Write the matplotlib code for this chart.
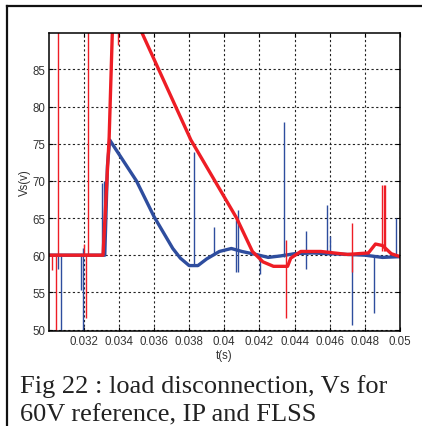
"""
Fig 22 - load disconnection, Vs for 60V reference, IP and FLSS
"""

import numpy as np
import matplotlib
matplotlib.use('Agg')
import matplotlib.pyplot as plt
from matplotlib.lines import Line2D

# IP (blue) - main trace
ip_t = [0.0300, 0.0332, 0.03335, 0.03348, 0.0350, 0.0360, 0.03707,
        0.0375, 0.0380, 0.0385, 0.0390, 0.03972, 0.0404, 0.0410, 0.0418,
        0.0425, 0.0432, 0.0440, 0.0450, 0.0480, 0.0490, 0.0500]
ip_v = [60.0, 60.0, 72.0, 75.5, 70.0, 65.2, 60.9,
        59.6, 58.6, 58.6, 59.5, 60.5, 60.9, 60.5, 60.1,
        59.7, 59.9, 60.2, 60.3, 60.0, 59.7, 59.8]

# IP spikes (time, low, high)
ip_spike_t = [0.03056, 0.03069, 0.03184, 0.03194, 0.03197, 0.03305, 0.03316,
              0.0383, 0.03943, 0.04066, 0.04079, 0.04204, 0.0434, 0.04463,
              0.04585, 0.0460, 0.04724, 0.0485, 0.04979]
ip_spike_lo = [58.2, 45.0, 55.3, 45.0, 60.0, 60.0, 60.0,
               58.5, 60.0, 57.8, 57.8, 57.5, 59.8, 58.2,
               60.0, 60.0, 50.6, 52.2, 60.0]
ip_spike_hi = [60.0, 60.0, 60.0, 60.0, 61.0, 69.7, 70.0,
               73.9, 63.8, 64.7, 66.1, 60.0, 77.9, 63.3,
               66.7, 62.6, 60.0, 60.0, 65.0]

# FLSS (red) - main trace
fl_t = [0.0300, 0.0331, 0.03345, 0.03363, 0.0337, 0.0350, 0.0353,
        0.0381, 0.0407, 0.0416, 0.0422, 0.0428, 0.0436,
        0.04378, 0.04435, 0.0455, 0.0470, 0.0482, 0.0486, 0.0490, 0.0495,
        0.0500]
fl_v = [60.0, 60.0, 75.9, 90.0, 96.0, 96.0, 90.0,
        75.5, 65.0, 60.5, 59.1, 58.5, 58.5,
        59.6, 60.5, 60.5, 60.1, 60.3, 61.5, 61.3, 60.2,
        59.8]

# FLSS spikes (time, low, high)
fl_spike_t = [0.03018, 0.03041, 0.03052, 0.03203, 0.03211, 0.03225, 0.03395,
              0.04353, 0.04727, 0.04897, 0.04906, 0.04916]
fl_spike_lo = [58.0, 45.0, 60.0, 60.0, 51.5, 60.0, 88.3,
               51.5, 57.8, 60.5, 60.5, 60.5]
fl_spike_hi = [60.0, 60.0, 100.0, 61.5, 60.0, 100.0, 95.0,
               62.0, 64.3, 69.4, 69.4, 69.4]

x_ticks = [0.032, 0.034, 0.036, 0.038, 0.040, 0.042, 0.044, 0.046, 0.048, 0.050]
x_labels = ['0.032', '0.034', '0.036', '0.038', '0.04', '0.042', '0.044',
            '0.046', '0.048', '0.05']
y_ticks = [50, 55, 60, 65, 70, 75, 80, 85]

caption = ['Fig 22 : load disconnection, Vs for',
           '60V reference, IP and FLSS']

BLUE = '#2E4D9E'
RED = '#EE1D25'


def main():
    fig = plt.figure(figsize=(4.22, 4.27), dpi=100)
    ax = fig.add_axes([0.115, 0.2225, 0.833, 0.698])

    # traces (blue first, red drawn over it)
    ax.plot(ip_t, ip_v, color=BLUE, linewidth=2.4, solid_joinstyle='round')
    ax.vlines(ip_spike_t, ip_spike_lo, ip_spike_hi, color=BLUE, linewidth=1.0)
    ax.plot(fl_t, fl_v, color=RED, linewidth=2.4, solid_joinstyle='round')
    ax.vlines(fl_spike_t, fl_spike_lo, fl_spike_hi, color=RED, linewidth=1.0)

    ax.set_xlim(0.030, 0.050)
    ax.set_ylim(49.8, 89.9)
    ax.set_xticks(x_ticks)
    ax.set_xticklabels(x_labels)
    ax.set_yticks(y_ticks)
    ax.tick_params(direction='in', length=3, labelsize=8.3, pad=2,
                   top=True, right=True)
    ax.tick_params(axis='x', pad=3)
    for lab in ax.get_xticklabels() + ax.get_yticklabels():
        lab.set_family('Liberation Sans')
        lab.set_color('#333333')

    ax.grid(True, color='#222222', linestyle=(0, (2, 2.2)), linewidth=0.8)
    for s in ax.spines.values():
        s.set_linewidth(1.1)

    ax.set_xlabel('t(s)', family='Liberation Sans', fontsize=8.3,
                  color='#333333', labelpad=1)
    ax.set_ylabel('Vs(v)', family='Liberation Sans', fontsize=8.3,
                  color='#333333', labelpad=1)

    # page border from the paper
    fig.add_artist(Line2D([7 / 422, 7 / 422], [0, 1 - 7 / 427],
                          transform=fig.transFigure, color='#111111', linewidth=1.6))
    fig.add_artist(Line2D([7 / 422, 1], [1 - 7 / 427, 1 - 7 / 427],
                          transform=fig.transFigure, color='#111111', linewidth=1.6))

    # caption
    fig.text(20 / 422, 1 - 393 / 427, caption[0], family='Liberation Serif',
             fontsize=19, color='#222222', va='baseline')
    fig.text(20 / 422, 1 - 421.5 / 427, caption[1], family='Liberation Serif',
             fontsize=19, color='#222222', va='baseline')

    fig.savefig('out.png', dpi=100)
    plt.close(fig)


if __name__ == "__main__":
    main()
